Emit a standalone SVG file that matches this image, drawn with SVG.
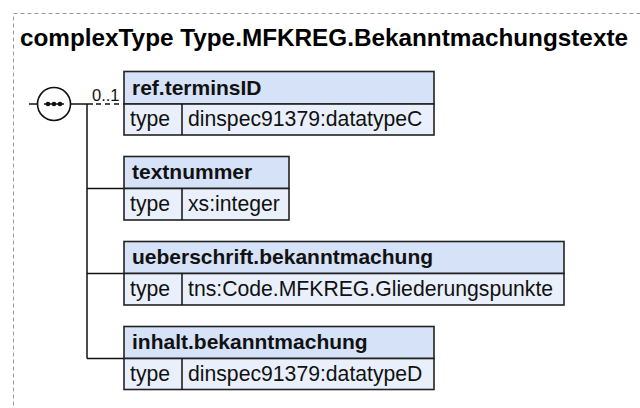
<svg xmlns="http://www.w3.org/2000/svg" width="640" height="408" viewBox="0 0 640 408">
<style>
.frame{fill:#ffffff;stroke:#9a9a9a;stroke-width:1;stroke-dasharray:4,3}
.title{font-family:"Liberation Sans",Arial,sans-serif;font-weight:bold;font-size:24.3px;fill:#000}
.hdr{fill:#d5e2f7;stroke:#222;stroke-width:1.6}
.row{fill:#e9f0fb;stroke:#222;stroke-width:1.6}
.name{font-family:"Liberation Sans",Arial,sans-serif;font-weight:bold;font-size:21px;fill:#111}
.txt{font-family:"Liberation Sans",Arial,sans-serif;font-size:21.2px;fill:#111}
.card{font-family:"Liberation Sans",Arial,sans-serif;font-size:16.5px;fill:#111}
.ln{stroke:#111;stroke-width:1.5;fill:none}
.dash{stroke:#111;stroke-width:1.5;fill:none;stroke-dasharray:5,4}
</style>
<rect class="frame" x="13.5" y="13.5" width="640" height="410"/>
<text class="title" x="20" y="46">complexType Type.MFKREG.Bekanntmachungstexte</text>
<g id="connectors">
<line class="ln" x1="29" y1="104" x2="38" y2="104"/>
<line class="ln" x1="70" y1="104" x2="93" y2="104"/>
<line class="dash" x1="96" y1="104" x2="124" y2="104"/>
<line class="ln" x1="87" y1="104" x2="87" y2="358.5"/>
<line class="ln" x1="87" y1="188.5" x2="124" y2="188.5"/>
<line class="ln" x1="87" y1="273.5" x2="124" y2="273.5"/>
<line class="ln" x1="87" y1="358.5" x2="124" y2="358.5"/>
<text class="card" x="92" y="101">0..1</text>
</g>
<g id="sequence">
<circle cx="54" cy="104" r="16.5" fill="#fff" stroke="#111" stroke-width="1.6"/>
<line class="ln" x1="44" y1="104" x2="64" y2="104"/>
<circle cx="48" cy="104" r="2.3" fill="#111"/>
<circle cx="54" cy="104" r="2.3" fill="#111"/>
<circle cx="60" cy="104" r="2.3" fill="#111"/>
</g>
<g id="ref.terminsID">
<rect class="hdr" x="124" y="71.5" width="310" height="32.5"/>
<rect class="row" x="124" y="104" width="310" height="31"/>
<line class="ln" x1="182" y1="104" x2="182" y2="135"/>
<text class="name" x="132" y="94.5">ref.terminsID</text>
<text class="txt" x="130" y="126">type</text>
<text class="txt" x="188" y="126">dinspec91379:datatypeC</text>
</g>
<g id="textnummer">
<rect class="hdr" x="124" y="156.5" width="165" height="32"/>
<rect class="row" x="124" y="188.5" width="165" height="31.5"/>
<line class="ln" x1="182" y1="188.5" x2="182" y2="220"/>
<text class="name" x="132" y="179">textnummer</text>
<text class="txt" x="130" y="210.5">type</text>
<text class="txt" x="188" y="210.5">xs:integer</text>
</g>
<g id="ueberschrift.bekanntmachung">
<rect class="hdr" x="124" y="241.5" width="440" height="32"/>
<rect class="row" x="124" y="273.5" width="440" height="31.5"/>
<line class="ln" x1="182" y1="273.5" x2="182" y2="305"/>
<text class="name" x="132" y="264">ueberschrift.bekanntmachung</text>
<text class="txt" x="130" y="295.5">type</text>
<text class="txt" x="188" y="295.5">tns:Code.MFKREG.Gliederungspunkte</text>
</g>
<g id="inhalt.bekanntmachung">
<rect class="hdr" x="124" y="326.5" width="310" height="32"/>
<rect class="row" x="124" y="358.5" width="310" height="31"/>
<line class="ln" x1="182" y1="358.5" x2="182" y2="389.5"/>
<text class="name" x="132" y="349">inhalt.bekanntmachung</text>
<text class="txt" x="130" y="380.5">type</text>
<text class="txt" x="188" y="380.5">dinspec91379:datatypeD</text>
</g>
</svg>
